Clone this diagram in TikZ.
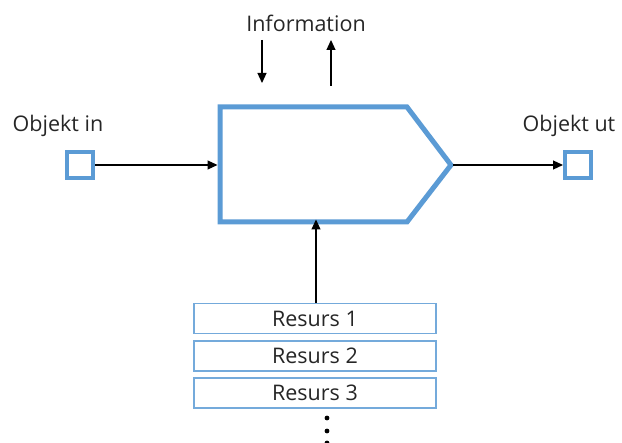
\documentclass[tikz,border=0pt]{standalone}
\usepackage{fontspec}
\setmainfont{Open Sans}
\usetikzlibrary{arrows.meta}
\definecolor{procblue}{RGB}{91,155,213}
\tikzset{
  lbl/.style={font=\fontsize{21.5}{25}\selectfont, text=black!85, inner sep=0pt},
  flow/.style={-{Triangle[length=10pt,width=9pt]}, line width=1.2pt, black},
  port/.style={draw=procblue, line width=4pt, fill=white, minimum size=26pt, inner sep=0pt},
  resbox/.style={draw=procblue!85, line width=1.3pt, fill=white, minimum width=242pt, minimum height=30pt, inner sep=0pt, font=\fontsize{21.5}{25}\selectfont, text=black!85},
  dot/.style={circle, fill=black, minimum size=4.8pt, inner sep=0pt}
}
\begin{document}
\begin{tikzpicture}[x=1pt,y=-1pt]
  \useasboundingbox (0,0) rectangle (622,443);

  % process shape (pentagon arrow)
  \draw[procblue, line width=5pt, line join=miter, fill=white]
    (220,107) -- (407,107) -- (451,165) -- (407,222) -- (220,222) -- cycle;
  \coordinate (pin) at (220,165);
  \coordinate (ptip) at (451,165);
  \coordinate (pbot) at (316,222);

  % input and output objects
  \node[port] (oin) at (80,165) {};
  \node[port] (oout) at (578,165) {};
  \node[lbl] (lin) at (58,126) {Objekt in};
  \node[lbl] (lout) at (569,126) {Objekt ut};

  \draw[flow] (oin.east) -- ([xshift=-2.5pt]pin);
  \draw[flow] ([xshift=2pt]ptip) -- (oout.west);

  % information flows
  \node[lbl] (info) at (306,23) {Information};
  \coordinate (idn0) at (262,40);
  \coordinate (idn1) at (262,83);
  \coordinate (iup0) at (331,86);
  \coordinate (iup1) at (331,40);
  \draw[flow] (idn0) -- (idn1);
  \draw[flow] (iup0) -- (iup1);

  % resources
  \node[resbox] (r1) at (315,318.5) {Resurs 1};
  \node[resbox] (r2) at (315,356) {Resurs 2};
  \node[resbox] (r3) at (315,393) {Resurs 3};
  \draw[flow] (pbot |- r1.north) -- ([yshift=2.5pt]pbot);

  \node[dot] (d1) at (327,418) {};
  \node[dot] (d2) at (327,431) {};
  \node[dot] (d3) at (327,443) {};
\end{tikzpicture}
\end{document}
